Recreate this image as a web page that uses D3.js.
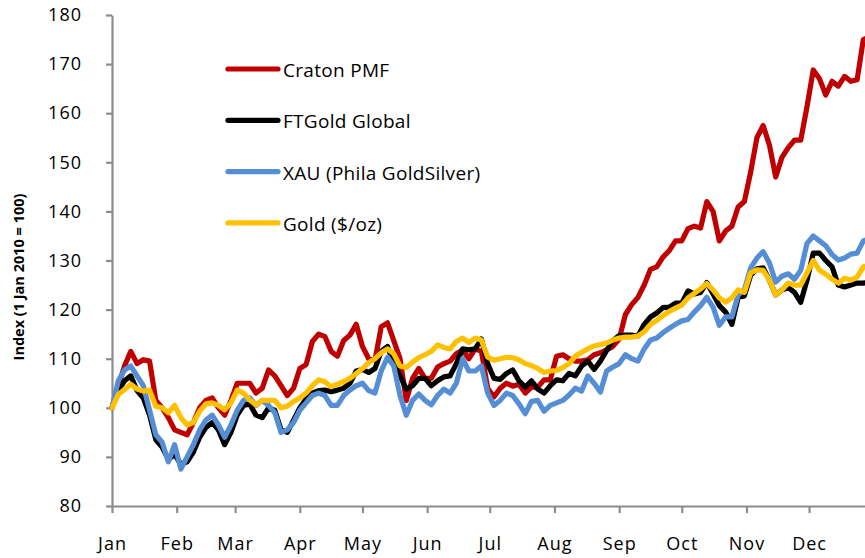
<!DOCTYPE html>
<meta charset="utf-8">
<style>
  html, body { margin: 0; padding: 0; background: #fff; overflow: hidden; }
  text { font-family: "Open Sans", sans-serif; fill: #000; }
  .axis path, .axis line { stroke: #8c8c8c; stroke-width: 2.2px; fill: none; }
  .axis text { font-size: 18px; letter-spacing: 1px; }
  .line { fill: none; stroke-width: 5.2px; stroke-linejoin: round; stroke-linecap: round; }
  .legend text { font-size: 19px; letter-spacing: 0.3px; }
  .ytitle { font-family: "Open Sans", sans-serif; font-weight: bold; font-size: 14.5px; }
</style>
<body>
<svg width="865" height="558"></svg>
<script src="https://d3js.org/d3.v7.min.js"></script>
<script>

// sample dates (every 3 days, 2010)
var dates = ["01-01","01-04","01-07","01-10","01-13","01-16","01-19","01-22","01-25","01-28","01-31",
  "02-03","02-06","02-09","02-12","02-15","02-18","02-21","02-24","02-27",
  "03-02","03-05","03-08","03-11","03-14","03-17","03-20","03-23","03-26","03-29",
  "04-01","04-04","04-07","04-10","04-13","04-16","04-19","04-22","04-25","04-28",
  "05-01","05-04","05-07","05-10","05-13","05-16","05-19","05-22","05-25","05-28","05-31",
  "06-03","06-06","06-09","06-12","06-15","06-18","06-21","06-24","06-27","06-30",
  "07-03","07-06","07-09","07-12","07-15","07-18","07-21","07-24","07-27","07-30",
  "08-02","08-05","08-08","08-11","08-14","08-17","08-20","08-23","08-26","08-29",
  "09-01","09-04","09-07","09-10","09-13","09-16","09-19","09-22","09-25","09-28",
  "10-01","10-04","10-07","10-10","10-13","10-16","10-19","10-22","10-25","10-28","10-31",
  "11-03","11-06","11-09","11-12","11-15","11-18","11-21","11-24","11-27","11-30",
  "12-03","12-06","12-09","12-12","12-15","12-18","12-21","12-24","12-27","12-30"];

var craton = [100,104.5,108.5,111.5,109,109.8,109.5,101.5,100,98,95.5,
  95,94.5,97,100,101.5,102,100,98.5,101.5,
  105,105,105,103,104,107.7,106.5,104.5,102.5,104,
  108,108.8,113.5,115,114.5,111.5,110.5,113.7,114.8,117,
  112.5,110,109.7,116.5,117.3,113.7,110,101.5,106,108,106,
  106,108.3,109,109.5,111,111.8,110,112,111.5,104,
  102.2,104,105,104.4,104.8,103,104.2,104.2,105.7,105.7,
  110.5,110.8,110,109.5,109.5,109.8,110.8,111.2,111.8,112.5,
  114,119,121,122.5,125,128.2,128.7,130.7,132,134,
  134,136.5,137,136.6,142,140,134,136,137,140.9,142,
  148,155,157.5,153.5,147,151,153,154.5,154.5,161.3,
  168.8,167,163.7,166.5,165.5,167.5,166.5,166.8,175,175.5];

var ftgold = [100,103.5,105.5,106.5,103.5,102,98.5,93.5,92,89.5,90.5,
  88.5,89,91,94,96,97,95.5,92.5,95,
  98.5,100.5,100.8,98.5,98,100,99.5,95.5,95,97.5,
  100,101.8,103,103.5,103.6,103.3,103.6,104,105,107.5,
  107.8,107.2,108,111.5,112.5,109,106.5,103.8,104.5,106,106,
  104.5,105.5,106.3,106.5,109,112,111.8,112,114,109,
  106,105.8,107,107.7,105.5,104.2,105.5,103.8,103,104.5,
  105.7,105.5,107,106.5,108.5,109.5,107.8,109.5,111.7,113.7,
  114.7,114.8,114.8,114.6,117,118.5,119.3,120.4,120.5,121.3,
  121.3,123.8,123.2,123.5,125.5,123.2,120.8,119.5,117,122.5,122.8,
  127,128.3,128.5,126,123,124,124.5,123.5,121.5,126,
  131.5,131.5,130,128.7,125,124.6,125,125.4,125.4,125.6];

var xau = [100,105.5,107.7,108.5,106.5,104.5,99.5,94.5,93,89,92.5,
  87.5,90,92.5,95.5,97.5,98.5,96.5,94,96.5,
  99.5,101.5,102,100.5,101.5,100.5,99,95,95.5,97,
  99.5,101,102.5,103,102.5,100.5,100.5,102.5,103.6,104.5,
  105,103.5,103,107.5,110.3,108.5,102.5,98.5,101.5,102.8,101.5,
  100.6,102.5,103.8,103,105,110,107.5,107.5,108.5,103,
  100.5,101.5,103,102.5,100.8,98.8,101.3,101.5,99.3,100.5,
  101,101.5,102.6,104,103.4,106.5,105,103.2,107.5,108.3,
  109,110.8,110,109.5,112,113.8,114.2,115.3,116.2,117,
  117.7,118,119.5,120.8,122.5,120.5,116.8,118.5,118.5,123,124,
  128.5,130.5,131.8,129.5,125.6,126.8,127.3,126.2,128,133.5,
  135,134,133,131.2,130.1,130.5,131.3,131.5,134,134.5];

var gold = [100,102.7,103.7,104.8,103.8,103.4,103.6,100.3,100,99,100.5,
  98,96.5,97,99.3,100.8,101,100.5,99.6,101,
  103.6,103,101.6,100.6,101.5,101.5,101.5,100,100.3,101.3,
  102,103,104.5,105.7,105.3,104.3,104.8,105.3,106,107,
  108,109.2,110,111.2,112,111,108.5,108.2,109.3,110.2,110.8,
  111.5,112.8,112.3,112,113.5,114.2,113.3,114.2,113.8,110.3,
  109.7,110,110.3,110.2,109.8,109,108.6,108,107.2,107.5,
  107.6,108.2,109,110.5,111.3,112,112.6,112.9,113.2,113.8,
  114.2,114.4,114.4,114.6,115.5,117,117.8,118.8,119.6,120.3,
  120.9,122.4,123.3,124.2,125.3,124,122.4,121.5,122.4,124,123.5,
  127.5,128.1,128,126,123,124,125.4,125,125,127.5,
  130,128,127.2,126.2,125.4,126.4,126,126.6,128.7,129];

var seriesNames = ["Craton PMF", "FTGold Global", "XAU (Phila GoldSilver)", "Gold ($/oz)"];
var seriesColors = ["#c00000", "#000000", "#558ed5", "#ffc000"];
var monthTicks = ["2010-01-01","2010-02-01","2010-03-01","2010-04-01","2010-05-01","2010-06-01",
  "2010-07-01","2010-08-01","2010-09-01","2010-10-01","2010-11-01","2010-12-01"];
var yTicks = [80, 90, 100, 110, 120, 130, 140, 150, 160, 170, 180];

var margin = {top: 15, right: 0, bottom: 52, left: 112},
    width = 865 - margin.left - margin.right,
    height = 558 - margin.top - margin.bottom;

var parseDay = d3.timeParse("%Y-%m-%d");

var svg = d3.select("svg");
var g = svg.append("g")
  .attr("transform", "translate(" + margin.left + "," + margin.top + ")");

var x = d3.scaleTime()
  .domain([parseDay("2010-01-01"), parseDay("2010-12-31")])
  .range([0, 759.7]);
var y = d3.scaleLinear().domain([80, 180]).range([height, 0]);

var series = [craton, ftgold, xau, gold].map(function(vals, i) {
  return {
    name: seriesNames[i],
    color: seriesColors[i],
    values: vals.map(function(v, j) { return {date: parseDay("2010-" + dates[j]), value: v}; })
  };
});

// axes
g.append("g")
  .attr("class", "axis axis--x")
  .attr("transform", "translate(0," + height + ")")
  .call(d3.axisBottom(x)
    .tickValues(monthTicks.map(parseDay))
    .tickFormat(d3.timeFormat("%b"))
    .tickSizeInner(7)
    .tickSizeOuter(0)
    .tickPadding(24));

g.append("g")
  .attr("class", "axis axis--y")
  .call(d3.axisLeft(y)
    .tickValues(yTicks)
    .tickSizeInner(6)
    .tickSizeOuter(0)
    .tickPadding(24));

g.selectAll(".axis text").attr("fill", "#000");

svg.append("text")
  .attr("class", "ytitle")
  .attr("transform", "translate(24,277) rotate(-90)")
  .attr("text-anchor", "middle")
  .text("Index (1 Jan 2010 = 100)");

var line = d3.line()
  .x(function(d) { return x(d.date); })
  .y(function(d) { return y(d.value); });

g.selectAll(".line")
  .data(series)
  .enter()
  .append("path")
    .attr("class", "line")
    .attr("stroke", function(d) { return d.color; })
    .attr("d", function(d) { return line(d.values); });

// legend
var legend = svg.append("g")
  .attr("class", "legend")
  .selectAll("g")
  .data(series)
  .enter()
  .append("g")
    .attr("transform", function(d, i) { return "translate(228," + (69 + i * 51.3) + ")"; });

legend.append("line")
  .attr("x1", 0)
  .attr("x2", 50)
  .attr("stroke", function(d) { return d.color; })
  .attr("stroke-width", 5.2)
  .attr("stroke-linecap", "round");

legend.append("text")
  .attr("x", 55)
  .attr("y", 8)
  .text(function(d) { return d.name; });

</script>
</body>
</html>
